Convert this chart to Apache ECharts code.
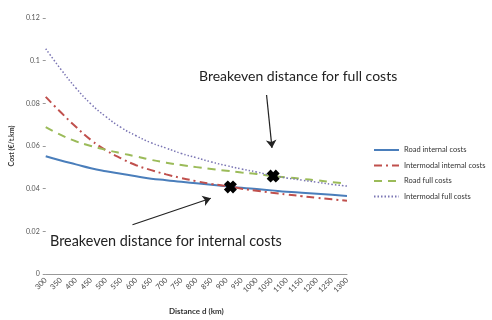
<!DOCTYPE html>
<html>
<head>
<meta charset="utf-8">
<script src="https://cdn.jsdelivr.net/npm/echarts@6/dist/echarts.min.js"></script>
<style>
html,body{margin:0;padding:0;background:#fff;}
#main{width:492px;height:320px;}
</style>
</head>
<body>
<div id="main"></div>
<script>
// distance (km) on the x axis
var distance = [300,350,400,450,500,550,600,650,700,750,800,850,900,950,1000,1050,1100,1150,1200,1250,1300];
// cost in euro per t.km
var roadInternal = [0.0552,0.0532,0.0514,0.0496,0.0482,0.0470,0.0458,0.0447,0.0440,0.0432,0.0425,0.0418,0.0411,0.0404,0.0398,0.0392,0.0386,0.0381,0.0376,0.0371,0.0366];
var intermodalInternal = [0.0830,0.0758,0.0690,0.0628,0.0580,0.0542,0.0510,0.0487,0.0467,0.0450,0.0435,0.0422,0.0412,0.0400,0.0390,0.0381,0.0373,0.0365,0.0357,0.0350,0.0343];
var roadFull = [0.0688,0.0652,0.0622,0.0600,0.0582,0.0566,0.0551,0.0535,0.0522,0.0511,0.0501,0.0492,0.0484,0.0476,0.0469,0.0460,0.0453,0.0446,0.0439,0.0431,0.0423];
var intermodalFull = [0.1056,0.0960,0.0872,0.0797,0.0737,0.0687,0.0648,0.0615,0.0590,0.0565,0.0545,0.0525,0.0508,0.0492,0.0478,0.0462,0.0450,0.0440,0.0430,0.0420,0.0412];
// breakeven points [distance, cost]
var breakeven = [[913,0.0408],[1055,0.0459]];
var seriesNames = ['Road internal costs','Intermodal internal costs','Road full costs','Intermodal full costs'];
var yTicks = ['0','0.02','0.04','0.06','0.08','0.1','0.12'];

function pairs(ys){
    var out = [];
    for(var i=0;i<distance.length;i++){
        out.push([distance[i], ys[i]]);
    }
    return out;
}

var myChart = echarts.init(document.getElementById('main'));
var font = 'Lato, "Liberation Sans", sans-serif';
// fat X marker like the excel one
var crossPath = 'path://M3,0 L5,2 L7,0 L10,3 L8,5 L10,7 L7,10 L5,8 L3,10 L0,7 L2,5 L0,3 Z';

var option = {
    animation: false,
    textStyle: {fontFamily: font},
    grid: {left: 40, right: 145, top: 18, bottom: 43},
    legend: {
        data: seriesNames,
        orient: 'vertical',
        left: 368,
        top: 141,
        itemWidth: 25,
        itemHeight: 8,
        itemGap: 7.5,
        itemStyle: {opacity: 0},
        textStyle: {fontSize: 7.5, color: '#333', fontFamily: font}
    },
    xAxis: {
        type: 'value',
        min: 300,
        max: 1300,
        interval: 50,
        name: 'Distance d (km)',
        nameLocation: 'middle',
        nameGap: 33,
        nameTextStyle: {fontSize: 8, fontWeight: 'bold', color: '#333'},
        axisLine: {lineStyle: {color: '#999'}},
        axisTick: {show: false},
        splitLine: {show: false},
        axisLabel: {
            rotate: 45, fontSize: 7.5, color: '#444', margin: 5,
            formatter: function(v){ return String(v); }
        }
    },
    yAxis: {
        type: 'value',
        min: 0,
        max: 0.12,
        interval: 0.02,
        name: 'Cost (€/t.km)',
        nameLocation: 'middle',
        nameGap: 30,
        nameTextStyle: {fontSize: 7, fontWeight: 'bold', color: '#333'},
        axisLine: {show: false},
        axisTick: {show: true, length: 3, lineStyle: {color: '#999'}},
        splitLine: {show: false},
        axisLabel: {
            fontSize: 7, color: '#555', margin: 6,
            formatter: function(v){ return yTicks[Math.round(v/0.02)]; }
        }
    },
    graphic: [
        {type: 'text', left: 199, top: 69, style: {text: 'Breakeven distance for full costs', font: '14px ' + font, fill: '#222'}},
        {type: 'text', left: 50, top: 234, style: {text: 'Breakeven distance for internal costs', font: '14.4px ' + font, fill: '#222'}}
    ],
    series: [
        {
            name: seriesNames[0], type: 'line', data: pairs(roadInternal),
            symbol: 'none', smooth: true, color: '#4a7ebb',
            lineStyle: {width: 2}
        },
        {
            name: seriesNames[1], type: 'line', data: pairs(intermodalInternal),
            symbol: 'none', smooth: true, color: '#c0504d',
            lineStyle: {width: 2, type: [8,4,2,4]}
        },
        {
            name: seriesNames[2], type: 'line', data: pairs(roadFull),
            symbol: 'none', smooth: true, color: '#9bbb59',
            lineStyle: {width: 2, type: [8,6]}
        },
        {
            name: seriesNames[3], type: 'line', data: pairs(intermodalFull),
            symbol: 'none', smooth: true, color: '#7b76b4',
            lineStyle: {width: 1.5, type: [1.5,2]}
        },
        {
            name: 'breakeven', type: 'scatter', data: breakeven,
            symbol: crossPath, symbolSize: 13, z: 5,
            itemStyle: {color: '#000', opacity: 1},
            markLine: {
                silent: true,
                symbol: ['none', 'arrow'],
                symbolSize: 8,
                lineStyle: {color: '#222', width: 1.2, type: 'solid'},
                label: {show: false},
                data: [
                    [{coord: [1033, 0.0839]}, {coord: [1051, 0.0591]}],
                    [{coord: [588, 0.0231]}, {coord: [848, 0.0355]}]
                ]
            }
        }
    ]
};
myChart.setOption(option);
</script>
</body>
</html>
